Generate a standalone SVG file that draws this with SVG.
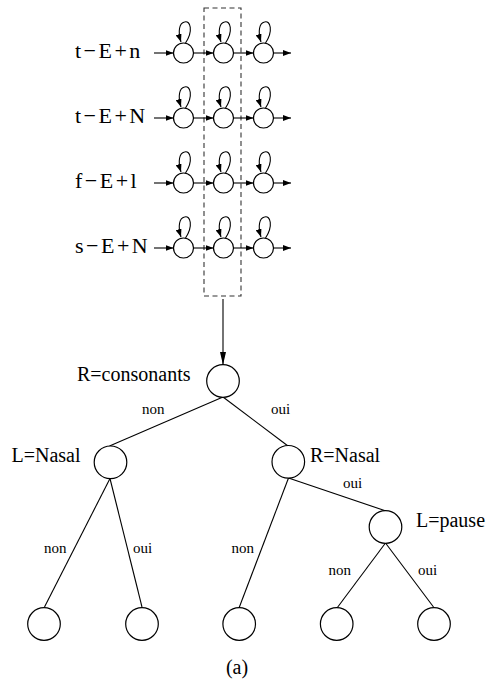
<svg xmlns="http://www.w3.org/2000/svg" width="489" height="684" viewBox="0 0 489 684">
<style>
.st{fill:#fff;stroke:#000;stroke-width:1.2}
.ln{fill:none;stroke:#000;stroke-width:1.1}
.lab{font-family:"Liberation Serif","Times New Roman",Times,"DejaVu Serif",serif;font-size:22px;letter-spacing:2.5px;fill:#000}
.tl{font-family:"Liberation Serif","Times New Roman",Times,"DejaVu Serif",serif;font-size:20px;fill:#000}
.sm{font-family:"Liberation Serif","Times New Roman",Times,"DejaVu Serif",serif;font-size:15px;fill:#000}
.cap{font-family:"Liberation Serif","Times New Roman",Times,"DejaVu Serif",serif;font-size:20px;fill:#000}
</style>
<defs>
<marker id="ah" markerUnits="userSpaceOnUse" markerWidth="8" markerHeight="6" refX="8" refY="3" orient="auto">
<path d="M0,0 L8,3 L0,6 z" fill="#000"/>
</marker>
<marker id="ahL" markerUnits="userSpaceOnUse" markerWidth="13" markerHeight="7" refX="13" refY="3.5" orient="auto">
<path d="M0,0.5 L13,3.5 L0,6.5 z" fill="#000"/>
</marker>
<g id="loop"><path class="ln" d="M2,-10 C10,-22 7,-33 1,-31 C-4,-30 -6,-22 -2.5,-11" marker-end="url(#ah)"/></g>
</defs>
<rect id="box" x="204" y="8" width="37" height="288" fill="none" stroke="#333" stroke-width="1.1" stroke-dasharray="5,3.5"/>
<g id="labels">
<text class="lab" x="75" y="57.5">t−E+n</text>
<text class="lab" x="75" y="122.5">t−E+N</text>
<text class="lab" x="75" y="187.5">f−E+l</text>
<text class="lab" x="75" y="252.5">s−E+N</text>
</g>
<g id="connectors">
<g id="hmm-edges">
<line class="ln" x1="154" y1="53" x2="173.5" y2="53" marker-end="url(#ah)"/>
<line class="ln" x1="193.5" y1="53" x2="213.5" y2="53" marker-end="url(#ah)"/>
<line class="ln" x1="233.5" y1="53" x2="253.5" y2="53" marker-end="url(#ah)"/>
<line class="ln" x1="273.5" y1="53" x2="291" y2="53" marker-end="url(#ah)"/>
<line class="ln" x1="154" y1="118" x2="173.5" y2="118" marker-end="url(#ah)"/>
<line class="ln" x1="193.5" y1="118" x2="213.5" y2="118" marker-end="url(#ah)"/>
<line class="ln" x1="233.5" y1="118" x2="253.5" y2="118" marker-end="url(#ah)"/>
<line class="ln" x1="273.5" y1="118" x2="291" y2="118" marker-end="url(#ah)"/>
<line class="ln" x1="154" y1="183" x2="173.5" y2="183" marker-end="url(#ah)"/>
<line class="ln" x1="193.5" y1="183" x2="213.5" y2="183" marker-end="url(#ah)"/>
<line class="ln" x1="233.5" y1="183" x2="253.5" y2="183" marker-end="url(#ah)"/>
<line class="ln" x1="273.5" y1="183" x2="291" y2="183" marker-end="url(#ah)"/>
<line class="ln" x1="154" y1="248" x2="173.5" y2="248" marker-end="url(#ah)"/>
<line class="ln" x1="193.5" y1="248" x2="213.5" y2="248" marker-end="url(#ah)"/>
<line class="ln" x1="233.5" y1="248" x2="253.5" y2="248" marker-end="url(#ah)"/>
<line class="ln" x1="273.5" y1="248" x2="291" y2="248" marker-end="url(#ah)"/>
<use href="#loop" x="183.5" y="53"/><use href="#loop" x="223.5" y="53"/><use href="#loop" x="263.5" y="53"/>
<use href="#loop" x="183.5" y="118"/><use href="#loop" x="223.5" y="118"/><use href="#loop" x="263.5" y="118"/>
<use href="#loop" x="183.5" y="183"/><use href="#loop" x="223.5" y="183"/><use href="#loop" x="263.5" y="183"/>
<use href="#loop" x="183.5" y="248"/><use href="#loop" x="223.5" y="248"/><use href="#loop" x="263.5" y="248"/>
</g>
<line class="ln" x1="223" y1="299" x2="223" y2="365" marker-end="url(#ahL)"/>
<line class="ln" x1="223" y1="397" x2="109.5" y2="446"/>
<line class="ln" x1="223" y1="397" x2="288" y2="446"/>
<line class="ln" x1="110" y1="478.5" x2="44.5" y2="607"/>
<line class="ln" x1="110" y1="478.5" x2="142" y2="607"/>
<line class="ln" x1="288.5" y1="478" x2="239" y2="608"/>
<line class="ln" x1="288.5" y1="478" x2="386" y2="511"/>
<line class="ln" x1="385.5" y1="543" x2="337" y2="608"/>
<line class="ln" x1="385.5" y1="543" x2="433.5" y2="607"/>
</g>
<g id="s1"><circle class="st" cx="183.5" cy="53" r="10"/></g>
<g id="s2"><circle class="st" cx="223.5" cy="53" r="10"/></g>
<g id="s3"><circle class="st" cx="263.5" cy="53" r="10"/></g>
<g id="s4"><circle class="st" cx="183.5" cy="118" r="10"/></g>
<g id="s5"><circle class="st" cx="223.5" cy="118" r="10"/></g>
<g id="s6"><circle class="st" cx="263.5" cy="118" r="10"/></g>
<g id="s7"><circle class="st" cx="183.5" cy="183" r="10"/></g>
<g id="s8"><circle class="st" cx="223.5" cy="183" r="10"/></g>
<g id="s9"><circle class="st" cx="263.5" cy="183" r="10"/></g>
<g id="s10"><circle class="st" cx="183.5" cy="248" r="10"/></g>
<g id="s11"><circle class="st" cx="223.5" cy="248" r="10"/></g>
<g id="s12"><circle class="st" cx="263.5" cy="248" r="10"/></g>
<g id="root"><circle class="st" cx="223" cy="381" r="16.3"/><text class="tl" x="77" y="381">R=consonants</text></g>
<g id="lnasal"><circle class="st" cx="110.5" cy="462.3" r="16.3"/><text class="tl" x="11.5" y="462">L=Nasal</text></g>
<g id="rnasal"><circle class="st" cx="288.3" cy="461.8" r="16.3"/><text class="tl" x="310" y="462">R=Nasal</text></g>
<g id="lpause"><circle class="st" cx="385.5" cy="527" r="16.3"/><text class="tl" x="416" y="527">L=pause</text></g>
<g id="leaf1"><circle class="st" cx="44" cy="624" r="16.3"/></g>
<g id="leaf2"><circle class="st" cx="142" cy="624" r="16.3"/></g>
<g id="leaf3"><circle class="st" cx="239.2" cy="624" r="16.3"/></g>
<g id="leaf4"><circle class="st" cx="336.7" cy="624" r="16.3"/></g>
<g id="leaf5"><circle class="st" cx="434" cy="624" r="16.3"/></g>
<g id="edge-labels">
<text class="sm" x="142" y="414">non</text>
<text class="sm" x="271" y="414">oui</text>
<text class="sm" x="343" y="488">oui</text>
<text class="sm" x="44" y="553">non</text>
<text class="sm" x="133" y="553">oui</text>
<text class="sm" x="231.5" y="553">non</text>
<text class="sm" x="328.5" y="575">non</text>
<text class="sm" x="418" y="575">oui</text>
</g>
<text id="caption" class="cap" x="237" y="674" text-anchor="middle">(a)</text>
</svg>
